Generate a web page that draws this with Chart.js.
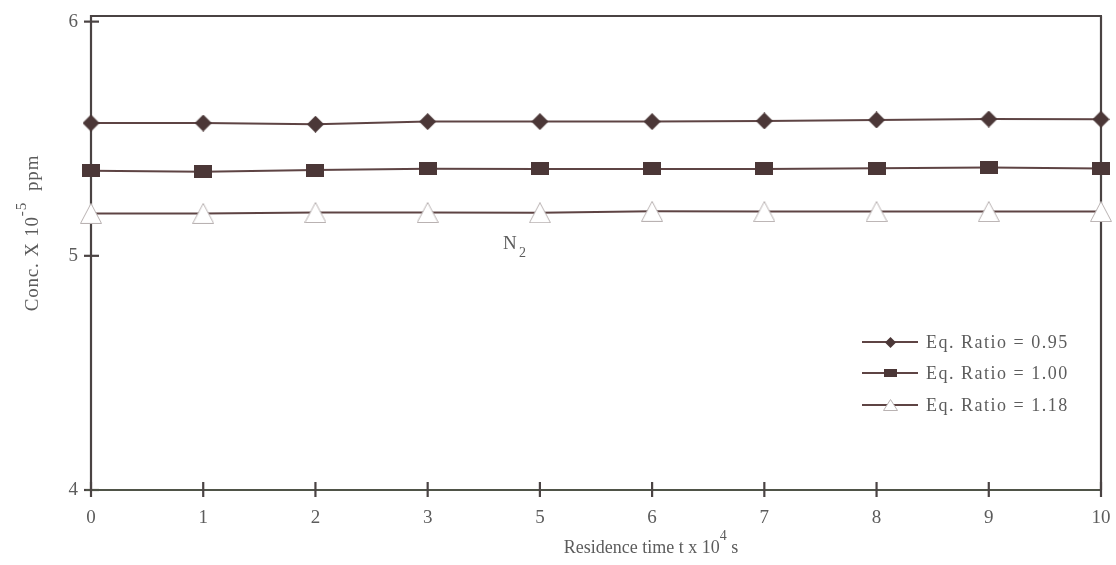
<!DOCTYPE html>
<html>
<head>
<meta charset="utf-8">
<script src="https://cdn.jsdelivr.net/npm/chart.js@4.4.1/dist/chart.umd.min.js"></script>
<style>
  html, body { margin: 0; padding: 0; background: #ffffff; }
  #wrap { width: 1116px; height: 565px; }
</style>
</head>
<body>
<div id="wrap"><canvas id="chart" width="1116" height="565"></canvas></div>
<script>
// Residence time categories (x 10^4 s) as printed on the axis
const timeLabels = ['0', '1', '2', '3', '5', '6', '7', '8', '9', '10'];

// CH4 concentration (x 10^-5 ppm) in N2 for each equivalence ratio
const ratio095 = [5.567, 5.567, 5.562, 5.573, 5.573, 5.573, 5.576, 5.580, 5.584, 5.583];
const ratio100 = [5.363, 5.359, 5.366, 5.372, 5.371, 5.371, 5.371, 5.374, 5.377, 5.373];
const ratio118 = [5.181, 5.181, 5.185, 5.185, 5.184, 5.190, 5.189, 5.189, 5.189, 5.189];

const seriesNames = ['Eq. Ratio = 0.95', 'Eq. Ratio = 1.00', 'Eq. Ratio = 1.18'];
const yTickValues = [4, 5, 6];

const FONT = '"Liberation Serif", "DejaVu Serif", serif';
const TEXT = '#5c5c5c';
const LINE = '#5e4444';
const MARK = '#4b3737';
const AXIS = '#4a4343';
const AXIS_X = '#4f5348';

// marker sprites
function sprite(w, h, draw) {
  const c = document.createElement('canvas');
  c.width = w; c.height = h;
  draw(c.getContext('2d'), w, h);
  return c;
}
function diamond(s) {
  return sprite(s, s, (g, w, h) => {
    g.fillStyle = MARK;
    g.beginPath();
    g.moveTo(w / 2, 0); g.lineTo(w, h / 2); g.lineTo(w / 2, h); g.lineTo(0, h / 2);
    g.closePath(); g.fill();
  });
}
function block(w, h) {
  return sprite(w, h, (g) => { g.fillStyle = MARK; g.fillRect(0, 0, w, h); });
}
function triangle(w, h) {
  return sprite(w, h, (g) => {
    g.fillStyle = '#ffffff';
    g.strokeStyle = '#b9b2b2';
    g.lineWidth = 1;
    g.beginPath();
    g.moveTo(w / 2, 0.5); g.lineTo(w - 0.5, h - 0.5); g.lineTo(0.5, h - 0.5);
    g.closePath(); g.fill(); g.stroke();
  });
}

const markers = [diamond(17), block(18, 13), triangle(22, 21)];
const legendMarkers = [diamond(11), block(13, 8), triangle(15, 12)];

function seg(ctx, x1, y1, x2, y2) {
  ctx.beginPath(); ctx.moveTo(x1, y1); ctx.lineTo(x2, y2); ctx.stroke();
}

// axes, frame and cross-through tick marks
const framePlugin = {
  id: 'frame',
  beforeDatasetsDraw(chart) {
    const { ctx, chartArea: a, scales: { x, y } } = chart;
    ctx.save();
    ctx.lineWidth = 2.2;
    ctx.strokeStyle = AXIS;
    seg(ctx, a.left, a.top, a.right + 1, a.top);
    seg(ctx, a.right, a.top, a.right, a.bottom);
    seg(ctx, a.left, a.top - 1, a.left, a.bottom);
    y.ticks.forEach(t => {
      const py = y.getPixelForValue(t.value);
      seg(ctx, a.left - 7, py, a.left + 8, py);
    });
    ctx.strokeStyle = AXIS_X;
    seg(ctx, a.left - 5, a.bottom, a.right + 1, a.bottom);
    ctx.strokeStyle = AXIS;
    x.ticks.forEach((t, i) => {
      const px = x.getPixelForTick(i);
      seg(ctx, px, a.bottom - 8, px, a.bottom + 7);
    });
    ctx.restore();
  }
};

// text pieces with raised / lowered parts
function drawRuns(ctx, runs, cx, baseline) {
  let total = 0;
  runs.forEach(r => { ctx.font = r.size + 'px ' + FONT; r.w = ctx.measureText(r.t).width; total += r.w; });
  let xPos = cx - total / 2;
  runs.forEach(r => {
    ctx.font = r.size + 'px ' + FONT;
    ctx.fillText(r.t, xPos, baseline + (r.dy || 0));
    xPos += r.w;
  });
}

const annotationPlugin = {
  id: 'annotations',
  afterDraw(chart) {
    const { ctx } = chart;
    ctx.save();
    ctx.fillStyle = TEXT;
    ctx.textAlign = 'left';
    ctx.textBaseline = 'alphabetic';

    // x axis title
    drawRuns(ctx, [
      { t: 'Residence time t x 10', size: 18 },
      { t: '4', size: 14, dy: -13 },
      { t: ' s', size: 18 }
    ], 651, 553);

    // y axis title
    ctx.save();
    ctx.translate(38, 233);
    ctx.rotate(-Math.PI / 2);
    if ('letterSpacing' in ctx) ctx.letterSpacing = '0.8px';
    drawRuns(ctx, [
      { t: 'Conc. X 10', size: 19 },
      { t: '-5', size: 15, dy: -12 },
      { t: '  ppm', size: 19 }
    ], 0, 0);
    ctx.restore();

    // gas label
    ctx.font = '19px ' + FONT;
    ctx.fillText('N', 503, 249);
    ctx.font = '14px ' + FONT;
    ctx.fillText('2', 519, 257);

    // legend
    const rows = [342, 373, 405];
    ctx.font = '18px ' + FONT;
    ctx.textBaseline = 'middle';
    if ('letterSpacing' in ctx) ctx.letterSpacing = '1.5px';
    rows.forEach((ry, i) => {
      ctx.strokeStyle = LINE;
      ctx.lineWidth = 2;
      seg(ctx, 862, ry, 918, ry);
      const m = legendMarkers[i];
      ctx.drawImage(m, Math.round(890 - m.width / 2), Math.round(ry - m.height / 2));
      ctx.fillStyle = TEXT;
      ctx.fillText(seriesNames[i], 926, ry + 1);
    });
    ctx.restore();
  }
};

const series = [ratio095, ratio100, ratio118];

new Chart(document.getElementById('chart'), {
  type: 'line',
  data: {
    labels: timeLabels,
    datasets: series.map((vals, i) => ({
      label: seriesNames[i],
      data: vals,
      borderColor: LINE,
      borderWidth: 2,
      backgroundColor: MARK,
      pointStyle: markers[i],
      pointRadius: 9,
      tension: 0,
      fill: false,
      clip: false
    }))
  },
  options: {
    responsive: false,
    devicePixelRatio: 1,
    animation: false,
    events: [],
    layout: { padding: { top: 16, right: 15, left: 0, bottom: 0 } },
    plugins: { legend: { display: false }, tooltip: { enabled: false } },
    scales: {
      x: {
        type: 'category',
        offset: false,
        grid: { display: false, drawTicks: false },
        border: { display: false },
        ticks: {
          autoSkip: false, maxRotation: 0, minRotation: 0,
          color: TEXT, padding: 17,
          font: { family: FONT, size: 19 }
        },
        afterFit(scale) {
          scale.height = 75;
          scale.paddingLeft = 0; scale.paddingRight = 0;
          scale.paddingTop = 0; scale.paddingBottom = 0;
        }
      },
      y: {
        min: 4,
        max: 6.024,
        grid: { display: false, drawTicks: false },
        border: { display: false },
        ticks: {
          stepSize: 1,
          includeBounds: false,
          color: TEXT, padding: 13,
          font: { family: FONT, size: 19 }
        },
        afterBuildTicks(scale) {
          scale.ticks = yTickValues.map(v => ({ value: v }));
        },
        afterFit(scale) {
          scale.width = 91;
          scale.paddingTop = 0; scale.paddingBottom = 0;
          scale.paddingLeft = 0; scale.paddingRight = 0;
        }
      }
    }
  },
  plugins: [framePlugin, annotationPlugin]
});
</script>
</body>
</html>
